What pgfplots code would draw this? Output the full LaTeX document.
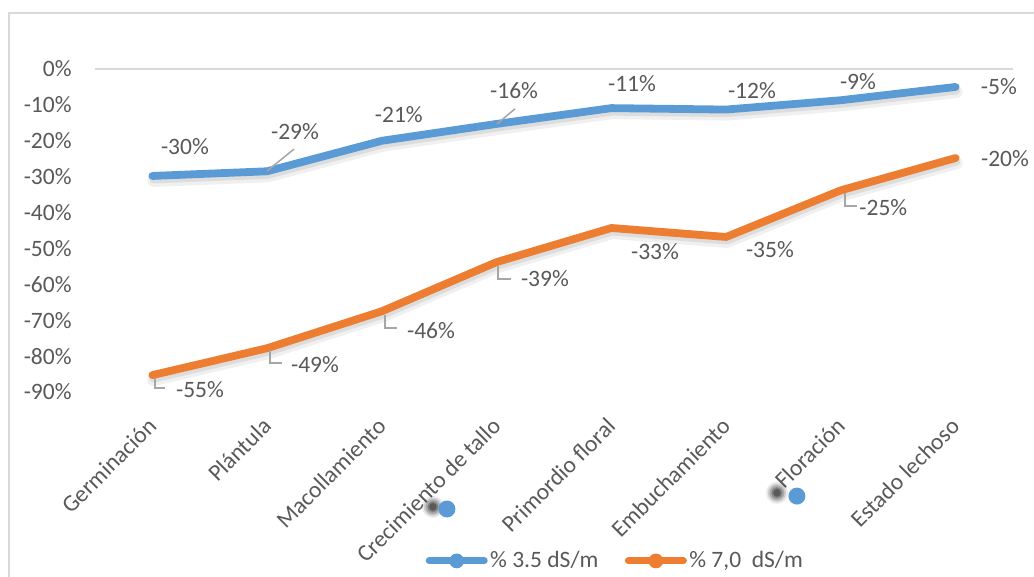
\documentclass[border=0pt]{standalone}
\usepackage{fontspec}
\setmainfont{Carlito}
\usepackage{pgfplots}
\usepackage{pgfplotstable}
\pgfplotsset{compat=1.18}
\definecolor{sblue}{HTML}{5B9BD5}
\definecolor{sorange}{HTML}{ED7D31}
\definecolor{txt}{HTML}{595959}
\definecolor{lead}{HTML}{A6A6A6}
\definecolor{frm}{HTML}{D9D9D9}

\pgfplotstableread{
x blue orange
0 -29.8 -85.3
1 -28.5 -77.8
2 -20.0 -67.5
3 -15.3 -53.8
4 -10.9 -44.3
5 -11.3 -46.8
6 -8.7 -33.8
7 -5.0 -24.8
}\datatable

\pgfplotstableread{
x y
2.567 -122.6
5.617 -119.0
}\straytable

\pgfplotstableread{
x y
2.445 -122.0
5.443 -118.1
}\shadowtable

\begin{document}
\begin{tikzpicture}[font=\fontsize{11.75}{14}\selectfont, text=txt]
\useasboundingbox (0,0) rectangle (517pt,-288.5pt);
\draw[frm, line width=1pt] (4.5pt,-300pt) -- (4.5pt,-6.5pt) -- (530pt,-6.5pt);
\begin{axis}[
  at={(47.5pt,-196pt)}, anchor=south west,
  scale only axis, width=459pt, height=161.5pt,
  xmin=-0.5, xmax=7.5, ymin=-90, ymax=0,
  axis line style={draw=none},
  major tick length=0pt,
  xtick={0,...,7},
  xticklabels={Germinación, Plántula, Macollamiento, Crecimiento de tallo, Primordio floral, Embuchamiento, Floración, Estado lechoso},
  xticklabel style={rotate=45, anchor=east, inner sep=0pt},
  xticklabel shift=15pt,
  ytick={-90,-80,-70,-60,-50,-40,-30,-20,-10,0},
  yticklabels={-90\%,-80\%,-70\%,-60\%,-50\%,-40\%,-30\%,-20\%,-10\%,0\%},
  yticklabel style={anchor=east, inner sep=0pt, xshift=-11.5pt},
  tick label style={text=txt, font=\fontsize{11.75}{14}\selectfont},
  clip=false,
  legend image code/.code={\draw[mark repeat=2, mark phase=2, #1] plot coordinates {(0pt,0pt) (13.75pt,0pt) (27.5pt,0pt)};},
  legend style={at={(rel axis cs:0.567,-0.523)}, anchor=center, draw=none, fill=none,
    legend columns=2, /tikz/every even column/.append style={column sep=12pt},
    inner sep=0pt, nodes={inner sep=1.25pt, text=txt, font=\fontsize{11.75}{14}\selectfont}},
]
% axis line at 0
\draw[frm, line width=1pt] (axis cs:-0.5,0) -- (axis cs:7.5,0);

% line shadows
\addplot[black, opacity=0.06, line width=6pt, line cap=round, line join=round, yshift=-2.5pt, xshift=0.5pt, forget plot] table[x=x,y=blue]{\datatable};
\addplot[black, opacity=0.08, line width=3.5pt, line cap=round, line join=round, yshift=-2pt, xshift=0.5pt, forget plot] table[x=x,y=blue]{\datatable};
\addplot[black, opacity=0.06, line width=6pt, line cap=round, line join=round, yshift=-2.5pt, xshift=0.5pt, forget plot] table[x=x,y=orange]{\datatable};
\addplot[black, opacity=0.08, line width=3.5pt, line cap=round, line join=round, yshift=-2pt, xshift=0.5pt, forget plot] table[x=x,y=orange]{\datatable};

% main lines
\addplot[sblue, line width=3.9pt, line cap=round, line join=round, forget plot] table[x=x,y=blue]{\datatable};
\addplot[sorange, line width=3.9pt, line cap=round, line join=round, forget plot] table[x=x,y=orange]{\datatable};

% stray markers with blurred shadows
\addplot[black, only marks, mark=*, mark size=5.5pt, mark options={draw opacity=0, fill=black, fill opacity=0.08}, forget plot] table[x=x,y=y]{\shadowtable};
\addplot[black, only marks, mark=*, mark size=4.6pt, mark options={draw opacity=0, fill=black, fill opacity=0.12}, forget plot] table[x=x,y=y]{\shadowtable};
\addplot[black, only marks, mark=*, mark size=3.7pt, mark options={draw opacity=0, fill=black, fill opacity=0.18}, forget plot] table[x=x,y=y]{\shadowtable};
\addplot[black, only marks, mark=*, mark size=2.8pt, mark options={draw opacity=0, fill=black, fill opacity=0.24}, forget plot] table[x=x,y=y]{\shadowtable};
\addplot[black, only marks, mark=*, mark size=1.9pt, mark options={draw opacity=0, fill=black, fill opacity=0.3}, forget plot] table[x=x,y=y]{\shadowtable};
\addplot[sblue, only marks, mark=*, mark size=4.25pt, mark options={draw opacity=0, fill=sblue}, forget plot] table[x=x,y=y]{\straytable};

% legend
\addlegendimage{sblue, line width=3.5pt, line cap=round, mark=*, mark size=3.7pt, mark options={fill=sblue, draw opacity=0, line width=0pt}}
\addlegendentry{\% 3.5 dS/m}
\addlegendimage{sorange, line width=3.5pt, line cap=round, mark=*, mark size=3.7pt, mark options={fill=sorange, draw opacity=0, line width=0pt}}
\addlegendentry{\% 7,0\ \ dS/m}

% leader lines
\draw[lead, line width=0.75pt] (axis cs:1.0,-28.4) -- (axis cs:1.235,-22.3);
\draw[lead, line width=0.75pt] (axis cs:3.003,-15.3) -- (axis cs:3.160,-11.1);
\draw[lead, line width=0.75pt] (axis cs:0.023,-86.1) -- (axis cs:0.023,-88.9) -- (axis cs:0.110,-88.9);
\draw[lead, line width=0.75pt] (axis cs:1.025,-78.3) -- (axis cs:1.025,-81.9) -- (axis cs:1.130,-81.9);
\draw[lead, line width=0.75pt] (axis cs:2.027,-68.5) -- (axis cs:2.027,-72.1) -- (axis cs:2.132,-72.1);
\draw[lead, line width=0.75pt] (axis cs:3.012,-54.9) -- (axis cs:3.012,-58.5) -- (axis cs:3.125,-58.5);
\draw[lead, line width=0.75pt] (axis cs:6.037,-34.6) -- (axis cs:6.037,-38.2) -- (axis cs:6.137,-38.2);

% data labels (blue series)
\node[anchor=base, inner sep=0pt] at (axis cs:0.284,-23.96) {-30\%};
\node[anchor=base, inner sep=0pt] at (axis cs:1.243,-19.78) {-29\%};
\node[anchor=base, inner sep=0pt] at (axis cs:2.148,-14.77) {-21\%};
\node[anchor=base, inner sep=0pt] at (axis cs:3.152,-8.08) {-16\%};
\node[anchor=base, inner sep=0pt] at (axis cs:4.180,-6.13) {-11\%};
\node[anchor=base, inner sep=0pt] at (axis cs:5.225,-8.08) {-12\%};
\node[anchor=base, inner sep=0pt] at (axis cs:6.149,-5.85) {-9\%};
\node[anchor=base, inner sep=0pt] at (axis cs:7.377,-7.24) {-5\%};
% data labels (orange series)
\node[anchor=base, inner sep=0pt] at (axis cs:0.415,-91.4) {-55\%};
\node[anchor=base, inner sep=0pt] at (axis cs:1.417,-84.7) {-49\%};
\node[anchor=base, inner sep=0pt] at (axis cs:2.428,-75.2) {-46\%};
\node[anchor=base, inner sep=0pt] at (axis cs:3.421,-60.7) {-39\%};
\node[anchor=base, inner sep=0pt] at (axis cs:4.380,-53.2) {-33\%};
\node[anchor=base, inner sep=0pt] at (axis cs:5.382,-52.4) {-35\%};
\node[anchor=base, inner sep=0pt] at (axis cs:6.370,-40.9) {-25\%};
\node[anchor=base, inner sep=0pt] at (axis cs:7.430,-27.3) {-20\%};
\end{axis}
\end{tikzpicture}
\end{document}
